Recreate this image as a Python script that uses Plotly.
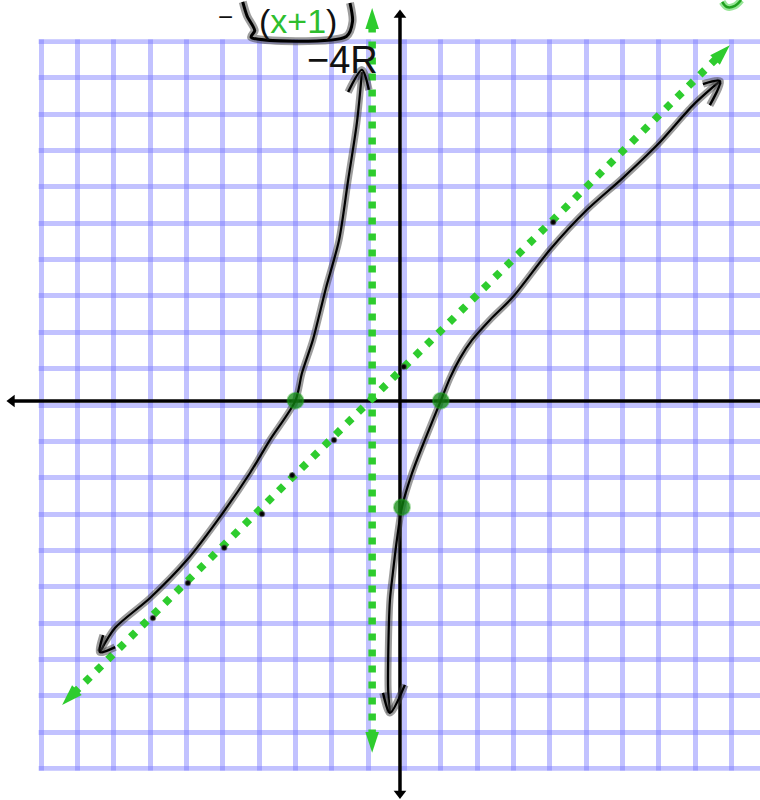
import plotly.graph_objects as go

# values, one grid square = 1 unit
left_x = [-8.38, -7.96, -7.00, -5.98, -5.02, -4.25, -3.70, -3.00, -2.82, -2.52, -2.16, -1.80, -1.55, -1.31, -1.17]
left_y = [-6.80, -6.13, -5.31, -4.26, -3.00, -1.87, -0.96, 0.12, 0.88, 1.79, 3.22, 4.54, 6.19, 7.76, 9.16]

right_x = [-0.40, -0.45, -0.45, -0.40, -0.32, -0.21, -0.07, 0.21, 0.56, 1.00, 1.25, 1.53, 1.86, 2.35, 2.98, 4.00, 5.02, 6.01, 6.95, 7.94, 8.49, 8.68]
right_y = [-8.47, -7.84, -7.02, -5.36, -4.62, -3.71, -2.81, -1.87, -0.96, 0.12, 0.74, 1.29, 1.79, 2.34, 2.97, 4.27, 5.37, 6.25, 7.15, 8.25, 8.75, 8.91]

# open hand drawn arrow heads: barb, tip, barb
heads_x = [[-8.29, -8.38, -7.96], [-1.55, -1.17, -0.98], [-0.59, -0.40, 0.01], [8.21, 8.68, 8.40]]
heads_y = [[-6.33, -6.80, -6.66], [8.61, 9.22, 8.67], [-7.92, -8.47, -7.70], [8.83, 8.91, 8.25]]

vasym_x = [-0.89, -0.89]
vasym_y = [-9.57, 10.92]
oasym_x = [-9.42, 8.95]
oasym_y = [-8.25, 9.90]

intercept_x = [-3.00, 1.00, -0.07]
intercept_y = [0.12, 0.12, -2.81]

dot_x = [-6.92, -5.96, -4.96, -3.92, -3.09, -1.94, -0.02, 4.09]
dot_y = [-5.86, -4.90, -3.93, -3.00, -1.93, -0.96, 1.05, 5.03]

yaxis_x = [-0.124, -0.124]
yaxis_y = [-10.69, 10.73]
xaxis_x = [-10.80, 9.80]
xaxis_y = [0.11, 0.11]

bracket_x = [-4.45, -4.33, -4.12, -4.22, -1.60, -1.43, -1.50]
bracket_y = [11.09, 10.70, 10.30, 10.12, 10.14, 10.55, 11.06]
tail_x = [8.74, 8.87, 9.09, 9.26]
tail_y = [11.09, 10.95, 10.98, 11.14]

GREEN = "rgb(46,204,46)"
HALO = "rgba(60,60,60,0.5)"


def pen(fig, xs, ys, core=2.2, halo=7):
    fig.add_trace(go.Scatter(x=xs, y=ys, mode="lines",
                             line=dict(color=HALO, width=halo, shape="spline", smoothing=0.8)))
    fig.add_trace(go.Scatter(x=xs, y=ys, mode="lines",
                             line=dict(color="black", width=core, shape="spline", smoothing=0.8)))


fig = go.Figure()

# axes
fig.add_trace(go.Scatter(x=yaxis_x, y=yaxis_y, mode="lines", line=dict(color="black", width=3.5)))
fig.add_trace(go.Scatter(x=xaxis_x, y=xaxis_y, mode="lines", line=dict(color="black", width=3.5)))
fig.add_trace(go.Scatter(x=[yaxis_x[1], yaxis_x[0], xaxis_x[0]],
                         y=[yaxis_y[1], yaxis_y[0], xaxis_y[0]],
                         mode="markers",
                         marker=dict(symbol=["triangle-up", "triangle-down", "triangle-left"],
                                     size=11, color="black")))

# asymptotes
fig.add_trace(go.Scatter(x=vasym_x, y=[vasym_y[0] + 0.45, vasym_y[1] - 0.45], mode="lines",
                         line=dict(color=GREEN, width=7.5, dash="7px,9px")))
fig.add_trace(go.Scatter(x=[oasym_x[0] + 0.32, oasym_x[1] - 0.32],
                         y=[oasym_y[0] + 0.32, oasym_y[1] - 0.32], mode="lines",
                         line=dict(color=GREEN, width=7.5, dash="7px,9px")))
fig.add_trace(go.Scatter(x=vasym_x + oasym_x, y=vasym_y + oasym_y, mode="markers",
                         marker=dict(symbol="arrow", size=22, color=GREEN,
                                     angle=[180, 0, 225, 45])))

# the curve
pen(fig, left_x, left_y)
pen(fig, right_x, right_y)
for hx, hy in zip(heads_x, heads_y):
    pen(fig, hx, hy, core=2.4, halo=7.5)

fig.add_trace(go.Scatter(x=dot_x, y=dot_y, mode="markers",
                         marker=dict(size=5, color="black", line=dict(color=HALO, width=1.5))))
fig.add_trace(go.Scatter(x=intercept_x, y=intercept_y, mode="markers",
                         marker=dict(size=16, color="rgba(15,135,15,0.75)",
                                     line=dict(color="rgba(40,170,40,0.4)", width=2))))

# handwriting at the top
pen(fig, bracket_x, bracket_y, core=3, halo=8)
fig.add_trace(go.Scatter(x=tail_x, y=tail_y, mode="lines",
                         line=dict(color="rgba(46,204,46,0.5)", width=7, shape="spline")))
fig.add_trace(go.Scatter(x=tail_x, y=tail_y, mode="lines",
                         line=dict(color="rgb(30,160,30)", width=2.5, shape="spline")))

fig.add_annotation(x=226 / 760, y=1, xref="paper", yref="paper", showarrow=False,
                   xanchor="center", yanchor="top",
                   text="−", font=dict(family="Liberation Sans", size=26, color="#111"))
fig.add_annotation(x=298 / 760, y=1, xref="paper", yref="paper", showarrow=False,
                   xanchor="center", yanchor="top",
                   text='(<span style="color:rgb(46,190,46)">x+1</span>)',
                   font=dict(family="Liberation Sans", size=34, color="#111"))
fig.add_annotation(x=342 / 760, y=1 - 37 / 800, xref="paper", yref="paper", showarrow=False,
                   xanchor="center", yanchor="top",
                   text="−4R", font=dict(family="Liberation Sans", size=38, color="#111"))

# white paper round the printed grid
for x0, x1, y0, y1 in [(-11.3, -10.065, -11.2, 11.3), (-11.3, 10, 10.065, 11.3), (-11.3, 10, -11.2, -10.065)]:
    fig.add_shape(type="rect", x0=x0, x1=x1, y0=y0, y1=y1, layer="between",
                  line_width=0, fillcolor="white")

grid = dict(showgrid=True, gridcolor="rgba(120,120,255,0.45)", gridwidth=4.5, dtick=1, tick0=0,
            zeroline=False, showticklabels=False, ticks="", showline=False)
fig.update_xaxes(range=[-11.128, 9.780], **grid)
fig.update_yaxes(range=[-10.867, 11.142], **grid)
fig.update_layout(width=760, height=800, margin=dict(l=0, r=0, t=0, b=0),
                  paper_bgcolor="white", plot_bgcolor="white", showlegend=False)

fig.write_html("out.html", config={"displayModeBar": False},
               post_script="document.body.style.margin='0px';")
